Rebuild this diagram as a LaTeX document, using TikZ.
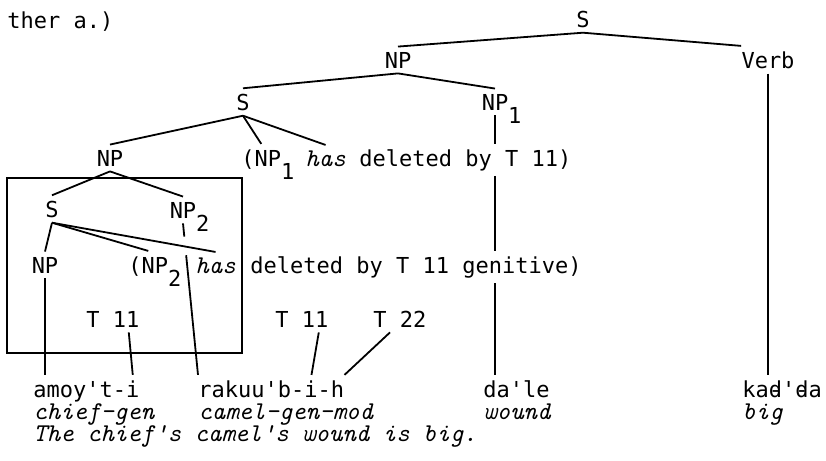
\documentclass[tikz,border=0pt]{standalone}
\usepackage{fontspec}
\newfontfamily\typefont{DejaVu Sans Mono}
\usetikzlibrary{calc}
\newcommand{\lowr}[1]{\rlap{\raisebox{-6.5pt}[0pt][0pt]{#1}}}
\newcommand{\dbar}{\rlap{d}-}
\begin{document}
\begin{tikzpicture}[x=0.5pt, y=-0.5pt,
  word/.style={inner xsep=0pt, inner ysep=2.5pt, font=\typefont\fontsize{11}{13}\selectfont},
  gloss/.style={inner xsep=0pt, inner ysep=2.5pt, anchor=base west, font=\ttfamily\itshape\fontsize{12.8}{15}\selectfont},
  branch/.style={-, line width=0.9pt, draw=black}]
\useasboundingbox (0,0) rectangle (826,461);
\node[word, anchor=base west] (ther) at (7,28) {ther a.)};
\node[word, anchor=base] (S0) at (583,27) {S};
\node[word, anchor=base] (NPa) at (398,68) {NP};
\node[word, anchor=base] (verb) at (768,68) {Verb};
\node[word, anchor=base] (S1) at (243,110) {S};
\node[word, anchor=base] (np1) at (495,110) {NP\lowr{1}};
\node[word, anchor=base] (np3) at (110,166) {NP};
\node[word, anchor=base west] (np1d) at (241,166) {(NP\lowr{1}};
\node[gloss] (has1) at (305,166) {has};
\node[word, anchor=base west] (del1) at (359,166) {deleted by T 11)};
\node[word, anchor=base] (S4) at (52,217) {S};
\node[word, anchor=base] (np2) at (183,218) {NP\lowr{2}};
\node[word, anchor=base] (np5) at (45,273) {NP};
\node[word, anchor=base west] (np2d) at (128,273) {(NP\lowr{2}};
\node[gloss] (has2) at (195,273) {has};
\node[word, anchor=base west] (del2) at (250,273) {deleted by T 11 genitive)};
\node[word, anchor=base west] (t11a) at (86,327) {T 11};
\node[word, anchor=base west] (t11b) at (275,327) {T 11};
\node[word, anchor=base west] (t22) at (373,327) {T 22};
\node[word, anchor=base west] (amoy) at (33,397) {amoy't-i};
\node[word, anchor=base west] (rak) at (198,397) {rakuu'b-i-h};
\node[word, anchor=base west] (dale) at (483,397) {da'le};
\node[word, anchor=base west] (kad) at (742,397) {ka\dbar'\dbar a};
\node[gloss] (chief) at (33,419) {chief-gen};
\node[gloss] (camel) at (198,419) {camel-gen-mod};
\node[gloss] (wound) at (483,419) {wound};
\node[gloss] (big) at (742,419) {big};
\node[gloss] (sent) at (33,441) {The chief's camel's wound is big.};
\draw[line width=0.75pt] (7,178) rectangle (242,353);
\path [branch] (S0.south) edge (NPa.north);
\path [branch] (S0.south) edge (verb.north west);
\path [branch] (NPa.south) edge (S1.north);
\path [branch] (NPa.south) edge (np1.north);
\path [branch] (S1.south) edge (np3.north);
\path [branch] (S1.south) edge (np1d.north);
\path [branch] (S1.south) edge (has1.north);
\path [branch] (np3.south) edge (S4.north);
\path [branch] (np3.south) edge (np2.north);
\path [branch] (S4.south) edge (np5.north);
\path [branch] (S4.south) edge (np2d.north);
\path [branch] (S4.south) edge (has2.north);
\path [branch] (np1.south) edge (np1.south |- del1.north);
\path [branch] (np1.south |- del1.south) edge (np1.south |- del2.north);
\path [branch] (np1.south |- del2.south) edge (np1.south |- dale.north);
\path [branch] (np2.south) edge ($(np2.south)!0.087!(rak.north west)$);
\path [branch] ($(np2.south)!0.21!(rak.north west)$) edge (rak.north west);
\path [branch] (np5.south) edge (np5.south |- amoy.north);
\path [branch] (verb.south) edge (verb.south |- kad.north);
\path [branch] ($(t11a.south east)+(-11,0)$) edge ($(amoy.north east)+(-7,0)$);
\path [branch] ($(t11b.south east)+(-10,0)$) edge ($(rak.north east)+(-33,0)$);
\path [branch] ($(t22.south west)+(17,0)$) edge (rak.north east);
\end{tikzpicture}
\end{document}
